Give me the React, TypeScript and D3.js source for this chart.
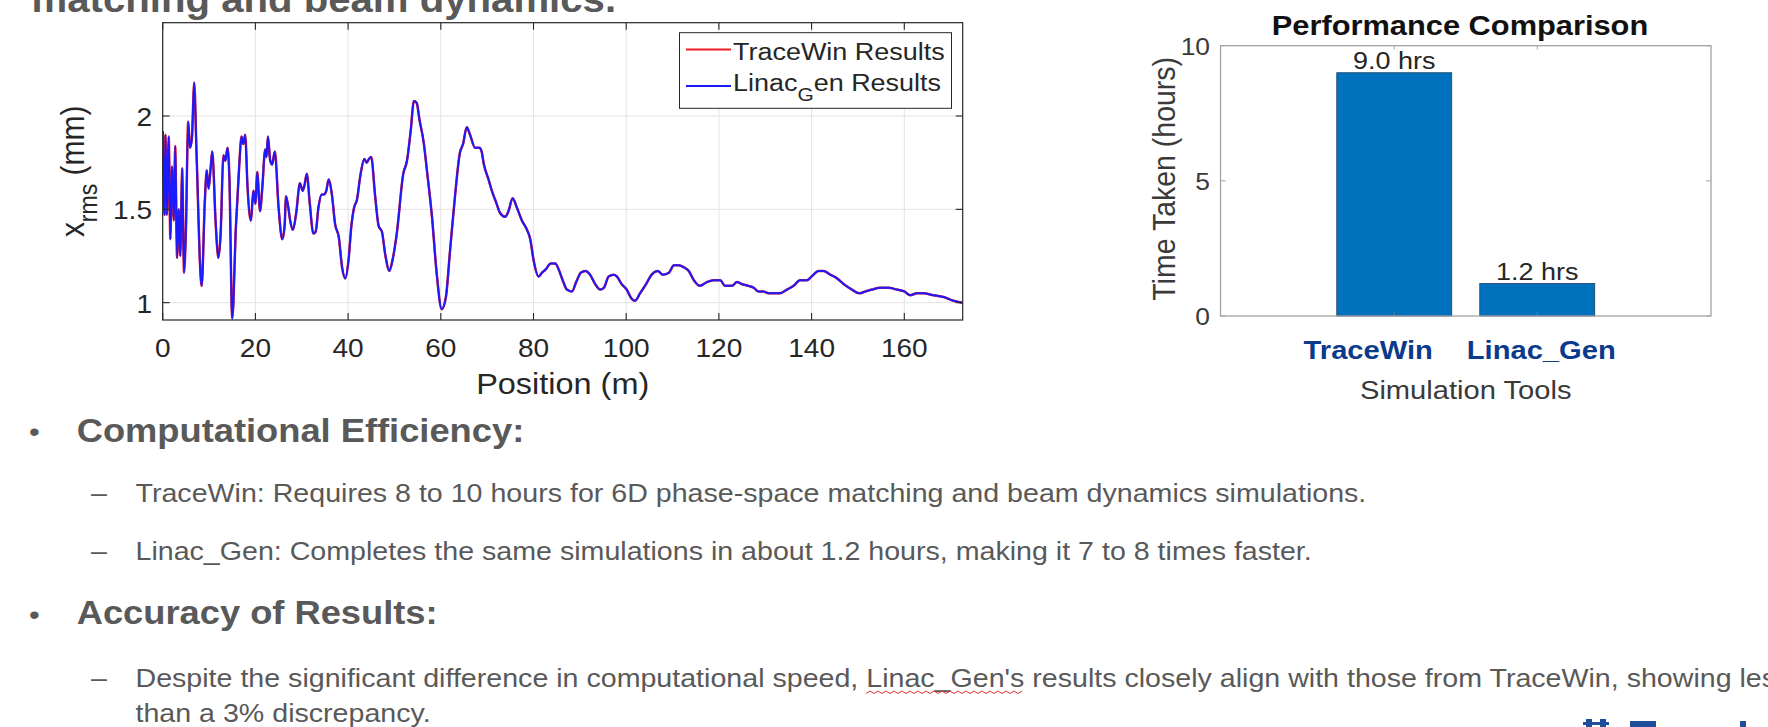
import React from 'react';
import * as d3 from 'd3';

const FONT = '"Liberation Sans", Arial, Helvetica, sans-serif';
const SX = 1.1;

// ---------- line chart data (x_rms vs position) ----------
const positionM = [
  0, 0.4, 0.6, 0.9, 1.3, 1.65, 2.0, 2.4, 2.7, 3.1,
  3.45, 3.8, 4.2, 4.6, 5.0, 5.5, 5.9, 6.3, 6.8, 7.3,
  8.4, 9.1, 9.5, 9.9, 10.4, 10.7, 11.4, 12.0, 12.5, 13.1,
  13.5, 14.0, 14.4, 15.0, 15.8, 16.5, 17.0, 17.4, 17.8, 18.3,
  19.0, 19.6, 20.0, 20.4, 21.0, 21.5, 22.1, 22.4, 22.7, 23.2,
  23.6, 24.2, 25.0, 25.8, 26.3, 26.6, 27.1, 27.5, 28.1, 28.8,
  29.6, 30.2, 30.6, 31.1, 31.7, 32.5, 33.0, 33.6, 34.3, 34.8,
  35.3, 35.8, 36.5, 37.2, 38.0, 38.7, 39.4, 40.1, 40.7, 41.3,
  41.9, 42.7, 43.5, 44.0, 44.5, 45.0, 45.8, 46.6, 47.3, 48.0,
  48.9, 49.6, 50.5, 51.9, 52.7, 53.5, 54.2, 54.8, 55.4, 56.3,
  57.0, 58.1, 59.1, 60.2, 61.1, 62.0, 63.1, 64.1, 64.8, 65.6,
  66.3, 67.4, 68.3, 68.8, 69.3, 70.3, 71.0, 71.9, 72.8, 73.9,
  74.6, 75.5, 76.4, 77.5, 78.6, 79.3, 80.0, 81.1, 81.8, 82.7,
  83.7, 84.7, 85.4, 86.3, 87.2, 88.3, 89.2, 90.2, 91.2, 92.2,
  93.3, 94.4, 95.2, 96.2, 97.3, 98.0, 99.0, 100.1, 101.2, 101.9,
  103.0, 104.3, 105.5, 106.8, 107.9, 109.2, 110.3, 111.3, 112.4, 113.5,
  114.6, 115.9, 117.4, 118.8, 120.3, 121.3, 122.8, 123.9, 124.9, 126.4,
  127.5, 128.5, 129.6, 130.7, 131.8, 133.2, 134.7, 136.1, 137.5, 139.0,
  140.0, 141.5, 142.6, 144.0, 145.5, 146.9, 148.7, 150.3, 151.6, 153.0,
  154.8, 156.6, 158.4, 160.0, 161.3, 162.7, 164.1, 166.3, 168.5, 170.6,
  172.6,
];

const linacGenXrms = [
  1.92, 1.47, 1.90, 1.47, 1.89, 1.34, 1.73, 1.44, 1.84, 1.24,
  1.50, 1.25, 1.72, 1.16, 1.38, 1.97, 1.83, 1.88, 2.18, 1.80,
  1.09, 1.55, 1.71, 1.61, 1.74, 1.81, 1.44, 1.24, 1.37, 1.79,
  1.76, 1.83, 1.66, 0.915, 1.41, 1.73, 1.89, 1.85, 1.90, 1.62,
  1.44, 1.60, 1.53, 1.70, 1.49, 1.62, 1.82, 1.78, 1.89, 1.76,
  1.74, 1.81, 1.51, 1.34, 1.41, 1.57, 1.51, 1.44, 1.39, 1.48,
  1.64, 1.60, 1.63, 1.69, 1.54, 1.37, 1.38, 1.51, 1.58, 1.58,
  1.60, 1.66, 1.58, 1.42, 1.35, 1.19, 1.13, 1.23, 1.41, 1.51,
  1.55, 1.69, 1.77, 1.75, 1.77, 1.78, 1.58, 1.41, 1.38, 1.26,
  1.17, 1.23, 1.37, 1.69, 1.76, 1.92, 2.08, 2.07, 1.98, 1.86,
  1.71, 1.46, 1.16, 0.965, 1.03, 1.28, 1.58, 1.80, 1.85, 1.94,
  1.90, 1.83, 1.83, 1.81, 1.74, 1.66, 1.60, 1.54, 1.48, 1.46,
  1.49, 1.56, 1.51, 1.44, 1.39, 1.34, 1.23, 1.14, 1.16, 1.18,
  1.21, 1.21, 1.18, 1.12, 1.07, 1.06, 1.11, 1.16, 1.17, 1.15,
  1.10, 1.07, 1.08, 1.14, 1.15, 1.14, 1.10, 1.07, 1.02, 1.01,
  1.05, 1.10, 1.15, 1.17, 1.15, 1.16, 1.20, 1.20, 1.19, 1.17,
  1.12, 1.09, 1.11, 1.12, 1.12, 1.09, 1.09, 1.11, 1.10, 1.09,
  1.08, 1.06, 1.06, 1.05, 1.05, 1.05, 1.07, 1.09, 1.12, 1.12,
  1.14, 1.17, 1.17, 1.15, 1.13, 1.10, 1.07, 1.05, 1.06, 1.07,
  1.08, 1.08, 1.07, 1.06, 1.04, 1.05, 1.05, 1.04, 1.03, 1.01,
  1.00,
];

// TraceWin coincides with Linac_Gen within the line width in the picture
const traceWinXrms = [...linacGenXrms];

const xTickValues = [0, 20, 40, 60, 80, 100, 120, 140, 160];
const yTickValues = [1, 1.5, 2];
const xDomain = [0, 172.6];
const yDomain = [0.907, 2.5];
const legendLabels = ['TraceWin Results', 'Linac_Gen Results'];

// ---------- bar chart data ----------
const tools = ['TraceWin', 'Linac_Gen'];
const hoursTaken = [9.0, 1.2];
const hourTicks = [0, 5, 10];
const toolLabelShift = [-26, 4];

// ---------- slide text ----------
const slideTitle = 'matching and beam dynamics.';
const heading1 = 'Computational Efficiency:';
const bullet1a = 'TraceWin: Requires 8 to 10 hours for 6D phase-space matching and beam dynamics simulations.';
const bullet1b = 'Linac_Gen: Completes the same simulations in about 1.2 hours, making it 7 to 8 times faster.';
const heading2 = 'Accuracy of Results:';
const bullet2a = "Despite the significant difference in computational speed, Linac_Gen's results closely align with those from TraceWin, showing less";
const bullet2b = 'than a 3% discrepancy.';

type TP = {
  x: number; y: number; size: number; anchor?: string; weight?: number | string;
  fill?: string; rotate?: boolean; children?: React.ReactNode;
};
function T({ x, y, size, anchor = 'start', weight = 400, fill = '#262626', rotate = false, children }: TP) {
  const tf = `translate(${x},${y}) scale(${SX},1)${rotate ? ' rotate(-90)' : ''}`;
  return (
    <text transform={tf} textAnchor={anchor as any} fontSize={size} fontWeight={weight as any}
      fill={fill} fontFamily={FONT}>
      {children}
    </text>
  );
}

export default function App() {
  // line chart scales
  const L = { left: 162.7, right: 962.7, top: 22.7, bottom: 320 };
  const xS = d3.scaleLinear().domain(xDomain).range([L.left, L.right]);
  const yS = d3.scaleLinear().domain(yDomain).range([L.bottom, L.top]);
  const mkLine = (vals: number[]) =>
    d3.line<number>()
      .x((_, i) => xS(positionM[i]))
      .y((d) => yS(d))
      .curve(d3.curveMonotoneX)(vals) || '';

  // bar chart scales
  const B = { left: 1220.5, right: 1711, top: 45.7, bottom: 316 };
  const bx = d3.scaleBand<string>().domain(tools).range([B.left, B.right])
    .paddingInner(0.196).paddingOuter(0.813);
  const by = d3.scaleLinear().domain([0, 10]).range([B.bottom, B.top]);

  const axisCol = '#262626';
  const gridCol = '#e3e3e3';
  const tick = 7;
  const textCol = '#595959';
  const bodySize = 26;

  return (
    <svg width={1768} height={727} viewBox="0 0 1768 727"
      style={{ position: 'absolute', left: 0, top: 0, display: 'block', background: '#fff' }}>
      <defs>
        <clipPath id="plotClip">
          <rect x={L.left} y={L.top} width={L.right - L.left} height={L.bottom - L.top} />
        </clipPath>
      </defs>

      {/* slide title (cut at top, as in the slide) */}
      <T x={31.6} y={11.7} size={36.5} weight={700} fill={textCol}>{slideTitle}</T>

      {/* ===== LINE CHART ===== */}
      {xTickValues.map((v) => (
        <line key={'gx' + v} x1={xS(v)} x2={xS(v)} y1={L.top} y2={L.bottom} stroke={gridCol} strokeWidth={1} />
      ))}
      {yTickValues.map((v) => (
        <line key={'gy' + v} x1={L.left} x2={L.right} y1={yS(v)} y2={yS(v)} stroke={gridCol} strokeWidth={1} />
      ))}

      <g clipPath="url(#plotClip)">
        <path d={mkLine(traceWinXrms)} fill="none" stroke="#ee1c25" strokeWidth={2.5} strokeLinejoin="round" />
        <path d={mkLine(linacGenXrms)} fill="none" stroke="#1a1aff" strokeWidth={2} strokeLinejoin="round" />
      </g>

      <rect x={L.left} y={L.top} width={L.right - L.left} height={L.bottom - L.top} fill="none" stroke={axisCol} strokeWidth={1.2} />
      {xTickValues.map((v) => (
        <g key={'tx' + v}>
          <line x1={xS(v)} x2={xS(v)} y1={L.bottom} y2={L.bottom - tick} stroke={axisCol} strokeWidth={1.1} />
          <line x1={xS(v)} x2={xS(v)} y1={L.top} y2={L.top + tick} stroke={axisCol} strokeWidth={1.1} />
          <T x={xS(v)} y={357} size={25.5} anchor="middle">{String(v)}</T>
        </g>
      ))}
      {yTickValues.map((v) => (
        <g key={'ty' + v}>
          <line x1={L.left} x2={L.left + tick} y1={yS(v)} y2={yS(v)} stroke={axisCol} strokeWidth={1.1} />
          <line x1={L.right} x2={L.right - tick} y1={yS(v)} y2={yS(v)} stroke={axisCol} strokeWidth={1.1} />
          <T x={152} y={yS(v) + 10} size={25.5} anchor="end">{String(v)}</T>
        </g>
      ))}
      <T x={(L.left + L.right) / 2} y={394} size={29.5} anchor="middle">Position (m)</T>
      <T x={84} y={(L.top + L.bottom) / 2} size={30} anchor="middle" rotate>
        <tspan>x</tspan>
        <tspan dy={12} fontSize={23}>rms</tspan>
        <tspan dy={-12}> (mm)</tspan>
      </T>

      {/* legend */}
      <rect x={679.5} y={32.7} width={272} height={75.6} fill="#fff" stroke={axisCol} strokeWidth={1} />
      <line x1={686} x2={731} y1={49.5} y2={49.5} stroke="#ee1c25" strokeWidth={2} />
      <line x1={686} x2={731} y1={86} y2={86} stroke="#1a1aff" strokeWidth={2} />
      <T x={733} y={59.5} size={24.5}>{legendLabels[0]}</T>
      <T x={733} y={90.7} size={24.5}>
        <tspan>Linac</tspan>
        <tspan dy={10} fontSize={19}>G</tspan>
        <tspan dy={-10}>en Results</tspan>
      </T>

      {/* ===== BAR CHART ===== */}
      <T x={1460} y={35} size={28} weight={700} anchor="middle" fill="#111">Performance Comparison</T>
      {tools.map((t, i) => {
        const cx = (bx(t) as number) + bx.bandwidth() / 2;
        return (
          <g key={t}>
            <rect x={bx(t)} y={by(hoursTaken[i])} width={bx.bandwidth()} height={by(0) - by(hoursTaken[i])}
              fill="#0072bd" stroke="#1d3f66" strokeWidth={0.8} />
            <T x={cx} y={by(hoursTaken[i]) - 4} size={24.5} anchor="middle" fill="#262626">
              {hoursTaken[i].toFixed(1) + ' hrs'}
            </T>
            <line x1={cx} x2={cx} y1={B.bottom} y2={B.bottom - 4} stroke="#5a7fa6" strokeWidth={1} />
            <line x1={cx} x2={cx} y1={B.top} y2={B.top + 4} stroke="#aaa" strokeWidth={1} />
            <T x={cx + toolLabelShift[i]} y={359} size={26.5} weight={700} anchor="middle" fill="#0b3a8c">{t}</T>
          </g>
        );
      })}
      <rect x={B.left} y={B.top} width={B.right - B.left} height={B.bottom - B.top} fill="none" stroke="#a3a3a3" strokeWidth={1.3} />
      {hourTicks.map((v) => (
        <g key={'bt' + v}>
          <line x1={B.left} x2={B.left + 5} y1={by(v)} y2={by(v)} stroke="#a3a3a3" strokeWidth={1} />
          <line x1={B.right} x2={B.right - 5} y1={by(v)} y2={by(v)} stroke="#a3a3a3" strokeWidth={1} />
          <T x={1210} y={by(v) + 9} size={24} anchor="end" fill="#3a3a3a">{String(v)}</T>
        </g>
      ))}
      <T x={1175} y={(B.top + B.bottom) / 2 - 2} size={28.5} anchor="middle" fill="#3a3a3a" rotate>Time Taken (hours)</T>
      <T x={(B.left + B.right) / 2} y={398.5} size={26.5} anchor="middle" fill="#3a3a3a">Simulation Tools</T>

      {/* ===== SLIDE TEXT ===== */}
      <T x={29} y={441} size={28} fill={textCol}>•</T>
      <T x={76.7} y={441.7} size={33} weight={700} fill={textCol}>{heading1}</T>
      <T x={91} y={501.7} size={bodySize} fill={textCol}>–</T>
      <T x={135.5} y={501.7} size={bodySize} fill={textCol}>{bullet1a}</T>
      <T x={91} y={560} size={bodySize} fill={textCol}>–</T>
      <T x={135.5} y={560} size={bodySize} fill={textCol}>{bullet1b}</T>
      <T x={29} y={624} size={28} fill={textCol}>•</T>
      <T x={76.7} y={624} size={33} weight={700} fill={textCol}>{heading2}</T>
      <T x={91} y={687.3} size={bodySize} fill={textCol}>–</T>
      <T x={135.5} y={687.3} size={bodySize} fill={textCol}>{bullet2a}</T>
      <T x={135.5} y={721.7} size={bodySize} fill={textCol}>{bullet2b}</T>
      <path d={d3.range(0, 40).map((k) => `${k === 0 ? 'M' : 'L'}${866 + k * 4},${k % 2 ? 691 : 693.5}`).join(' ')}
        fill="none" stroke="#e03030" strokeWidth={1} />

      {/* partial logo at bottom right */}
      <rect x={1586} y={719} width={6} height={8} fill="#1f4e9c" />
      <rect x={1600} y={719} width={6} height={8} fill="#1f4e9c" />
      <rect x={1583} y={722} width={26} height={3} fill="#1f4e9c" />
      <rect x={1630} y={721} width={26} height={6} fill="#1f4e9c" />
      <rect x={1740} y={721} width={6} height={6} fill="#1f4e9c" />
    </svg>
  );
}
